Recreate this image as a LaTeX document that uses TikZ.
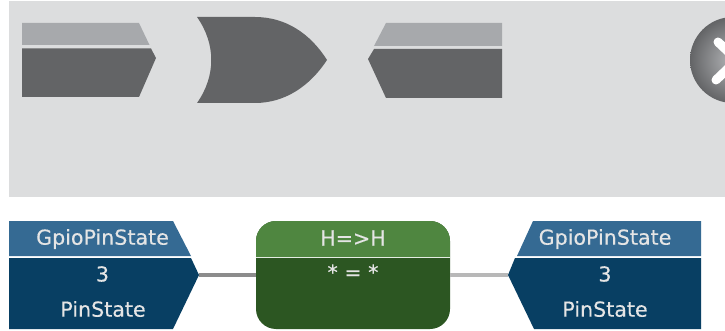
\documentclass[tikz,border=0pt]{standalone}
\usepackage{fontspec}
\setmainfont{DejaVu Sans}
\definecolor{panelgrey}{HTML}{DCDDDE}
\definecolor{darkgrey}{HTML}{636466}
\definecolor{lightgrey}{HTML}{A7A9AC}
\definecolor{blueband}{HTML}{356A93}
\definecolor{bluebody}{HTML}{083F63}
\definecolor{greenband}{HTML}{4F8640}
\definecolor{greenbody}{HTML}{2C5622}
\tikzset{
  labeltext/.style={text=white!90!black,font=\fontsize{20.6}{22}\selectfont\addfontfeature{FakeBold=0.3},inner sep=0pt},
  wire/.style={line width=3.2pt},
  panelband/.style={fill=lightgrey},
  panelbody/.style={fill=darkgrey}
}
\begin{document}
\begin{tikzpicture}[x=1pt,y=-1pt]
\useasboundingbox (0,0) rectangle (725,331);
\fill[white] (0,0) rectangle (725,331);
% grey panel
\fill[panelgrey] (9,1) rectangle (725,197);
\fill[panelband] (22,23) -- (139,23) -- (149.5,45) -- (22,45) -- cycle;
\fill[panelbody] (22,48.5) -- (151,48.5) -- (156,58) -- (139,97) -- (22,97) -- cycle;
\fill[darkgrey] (197,17) -- (255,17) .. controls (285,17) and (310,33) .. (327,60)
  .. controls (310,86) and (285,103) .. (255,103) -- (197,103)
  .. controls (216,76) and (216,44) .. (197,17) -- cycle;
\fill[panelband] (386,23) -- (502,23) -- (502,46) -- (374,46) -- cycle;
\fill[panelbody] (374,49) -- (502,49) -- (502,98) -- (386,98) -- (368,59) -- cycle;
\begin{scope}
\clip (0,0) rectangle (725,331);
\shade[inner color=lightgrey!85!white,outer color=darkgrey] (733,60) circle (43);
\draw[white,line width=9pt,line cap=round] (718,42) -- (737,60) -- (716,80);
\end{scope}
% connectors
\coordinate (ltip) at (199,275);
\coordinate (rtip) at (508,275);
\node[fill=greenbody,rounded corners=20pt,minimum width=194pt,minimum height=108pt,inner sep=0pt] (gate) at (353,275) {};
\draw[wire,color=black!45] (ltip) -- (gate.west);
\draw[wire,color=black!28] (gate.east) -- (rtip);
% left block
\fill[blueband] (9,221) -- (173,221) -- (191,256) -- (9,256) -- cycle;
\fill[bluebody] (9,258) -- (191,258) -- (199,275) -- (173,329) -- (9,329) -- cycle;
\node[labeltext] (lt) at (102.5,239) {GpioPinState};
\node[labeltext] (ln) at (102.5,274) {3};
\node[labeltext] (lb) at (103,309) {PinState};
% gate band
\begin{scope}
\clip[rounded corners=20pt] (256,221) rectangle (450,329);
\fill[greenband] (256,221) rectangle (450,257);
\fill[white!85!greenband] (256,256.5) rectangle (450,258);
\end{scope}
\node[labeltext] (gt) at (353,238) {H=>H};
\node[labeltext] (gb) at (353,272) {* = *};
% right block
\fill[blueband] (533,221) -- (701,221) -- (701,256) -- (517,256) -- cycle;
\fill[bluebody] (515,258) -- (701,258) -- (701,329) -- (534,329) -- (508,275) -- cycle;
\node[labeltext] (rt) at (605,239) {GpioPinState};
\node[labeltext] (rn) at (605,274) {3};
\node[labeltext] (rb) at (605,309) {PinState};
\end{tikzpicture}
\end{document}
